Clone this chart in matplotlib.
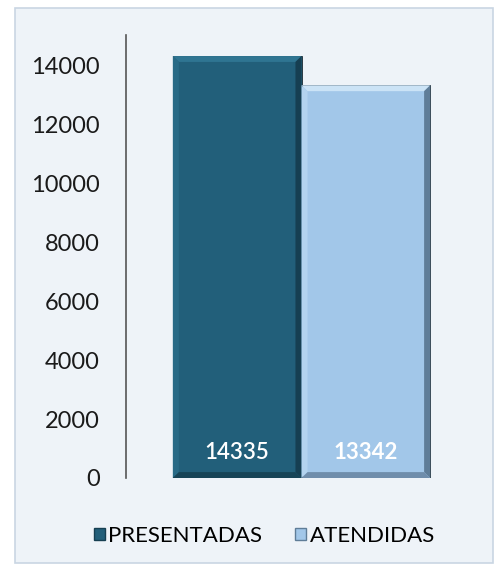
import matplotlib.pyplot as plt
from matplotlib.patches import Rectangle, Polygon

categories = ["PRESENTADAS", "ATENDIDAS"]
values = [14335, 13342]
yticks = [0, 2000, 4000, 6000, 8000, 10000, 12000, 14000]

bar_colors = ["#225f7a", "#a2c7e9"]
top_colors = ["#2f7592", "#cbe3f6"]
left_colors = ["#286a86", "#b3d3ef"]
right_colors = ["#163f52", "#5f7d98"]
bottom_colors = ["#174457", "#6f8dab"]
label_weights = ["semibold", "bold"]

plt.rcParams['font.family'] = ['Lato', 'DejaVu Sans']

fig = plt.figure(figsize=(4.94, 5.71), dpi=100)
fig.patch.set_facecolor("white")
# chart area background with thin border
fig.patches.append(Rectangle((15 / 494, 8 / 571), 478 / 494, 555 / 571,
                             transform=fig.transFigure, facecolor="#eef3f8",
                             edgecolor="#c9d6e3", linewidth=1.2, zorder=-10))

ax = fig.add_axes([126 / 494, 93 / 571, 351 / 494, 443 / 571])
ax.set_facecolor("none")

x = list(range(len(categories)))
ax.bar(x, values, width=1.0, color=bar_colors, edgecolor="#1c2a33",
       linewidth=0.6, zorder=2)

# bevel bands around each bar
bx, by = 0.047, 200
for i, (xi, v) in enumerate(zip(x, values)):
    l, r, t = xi - 0.5, xi + 0.5, v
    bands = [
        ([(l, t), (r, t), (r - bx, t - by), (l + bx, t - by)], top_colors[i]),
        ([(l, 0), (l, t), (l + bx, t - by), (l + bx, by)], left_colors[i]),
        ([(r, 0), (r, t), (r - bx, t - by), (r - bx, by)], right_colors[i]),
        ([(l, 0), (r, 0), (r - bx, by), (l + bx, by)], bottom_colors[i]),
    ]
    for pts, c in bands:
        ax.add_patch(Polygon(pts, closed=True, facecolor=c, edgecolor="none", zorder=3))

for xi, v, w in zip(x, values, label_weights):
    ax.text(xi, 850, str(v), ha="center", va="center", color="white",
            fontsize=16, fontweight=w, zorder=5)

ax.set_xlim(-0.864, 1.864)
ax.set_ylim(0, 15050)
ax.set_yticks(yticks)
ax.set_yticklabels([str(t) for t in yticks], fontsize=17, color="#1a1a1a")
ax.tick_params(axis="y", length=0, pad=19)
ax.set_xticks([])
for s in ["top", "right", "bottom"]:
    ax.spines[s].set_visible(False)
ax.spines["left"].set_color("#555555")
ax.spines["left"].set_linewidth(1.2)

handles = [Rectangle((0, 0), 1, 1, facecolor=c, edgecolor=e)
           for c, e in zip(bar_colors, right_colors)]
fig.legend(handles, categories, loc="center", bbox_to_anchor=(0.535, 35 / 571),
           ncol=2, frameon=False, fontsize=16, handlelength=0.5, handleheight=0.5,
           handletextpad=0.15, columnspacing=1.5)

fig.savefig("out.png", dpi=100, facecolor=fig.get_facecolor())
